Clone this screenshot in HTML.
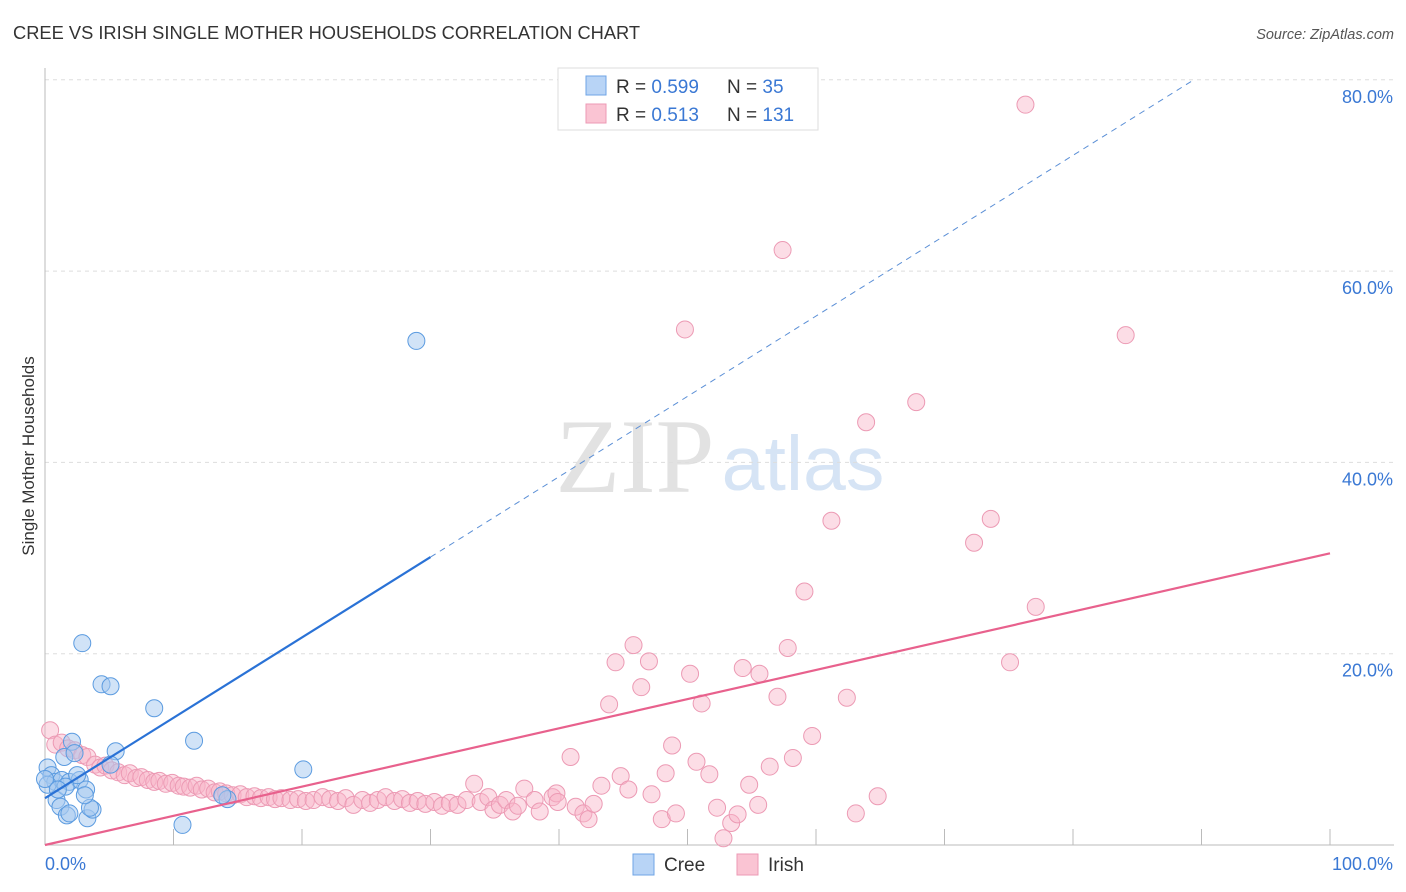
<!DOCTYPE html>
<html><head><meta charset="utf-8"><style>
body{margin:0;background:#fff;font-family:"Liberation Sans",sans-serif}
svg{display:block}
</style></head><body>
<svg id="c" width="1406" height="892">
<text x="13" y="39" font-size="18.3" fill="#333">CREE VS IRISH SINGLE MOTHER HOUSEHOLDS CORRELATION CHART</text>
<text x="1394" y="39" font-size="14.5" fill="#555" font-style="italic" text-anchor="end">Source: ZipAtlas.com</text>
<text transform="translate(34,456) rotate(-90)" font-size="17" fill="#333" text-anchor="middle">Single Mother Households</text>
<g><text x="635" y="492" font-family="Liberation Serif,serif" font-size="106" fill="#e2e2e2" text-anchor="middle">ZIP</text><text x="803" y="490" font-size="77" fill="#d6e4f5" text-anchor="middle">atlas</text></g>
<g id="grid"></g><g id="axes"></g><g id="pts"></g><g id="lines"></g>
<g>
<rect x="558" y="68" width="260" height="62" fill="#fff" stroke="#ddd"/>
<rect x="586" y="76" width="20" height="19" fill="#b8d4f6" stroke="#6fa4e6"/>
<rect x="586" y="104" width="20" height="19" fill="#fac4d3" stroke="#ec9ab4"/>
<text x="616" y="93" font-size="19" fill="#333">R = <tspan fill="#3a78d4">0.599</tspan></text>
<text x="727" y="93" font-size="19" fill="#333">N = <tspan fill="#3a78d4"> 35</tspan></text>
<text x="616" y="121" font-size="19" fill="#333">R = <tspan fill="#3a78d4"> 0.513</tspan></text>
<text x="727" y="121" font-size="19" fill="#333">N = <tspan fill="#3a78d4">131</tspan></text>
</g>
<g>
<rect x="633" y="854" width="21" height="21" fill="#b8d4f6" stroke="#6fa4e6"/>
<text x="664" y="871" font-size="19" fill="#333">Cree</text>
<rect x="737" y="854" width="21" height="21" fill="#fac4d3" stroke="#ec9ab4"/>
<text x="768" y="871" font-size="19" fill="#333">Irish</text>
</g>
</svg>
<script>
const yTicks=[20,40,60,80];
const yTickLabels=["20.0%","40.0%","60.0%","80.0%"];
const xTicks=[10,20,30,40,50,60,70,80,90,100];
const creeX=[2.9,4.4,5.1,8.5,11.6,5.5,2.1,1.5,2.3,28.9,20.1,10.7,14.2,13.8,0.2,0.5,0.8,1.3,1.9,2.7,0.2,0.9,1.2,1.7,1.9,3.3,3.7,3.5,3.2,2.5,5.1,3.1,0,1.6,1.0];
const creeY=[21.1,16.8,16.6,14.3,10.9,9.8,10.8,9.2,9.6,52.7,7.9,2.1,4.8,5.2,8.1,7.3,6.6,6.8,6.6,6.8,6.3,4.7,4.0,3.1,3.3,2.8,3.7,3.9,5.8,7.3,8.4,5.2,6.9,6.1,5.8];
const irishX=[0.4,0.8,1.3,1.8,2.3,2.9,3.3,3.9,4.3,4.7,5.2,5.7,6.2,6.6,7.1,7.5,8.0,8.5,8.9,9.4,9.9,10.4,10.8,11.3,11.8,12.2,12.7,13.2,13.6,14.1,14.6,15.2,15.7,16.3,16.8,17.4,17.9,18.4,19.1,19.7,20.3,20.9,21.6,22.2,22.8,23.4,24.0,24.7,25.3,25.9,26.5,27.2,27.8,28.4,29.0,29.6,30.3,30.9,31.5,32.1,32.8,33.4,33.9,34.5,34.9,35.4,35.9,36.4,36.8,37.3,38.1,38.5,39.5,39.8,39.9,40.9,41.3,41.9,42.3,42.7,43.3,43.9,44.4,44.8,45.4,45.8,46.4,47.0,47.2,48.0,48.3,48.8,49.1,49.8,50.2,50.7,51.1,51.7,52.3,52.8,53.4,53.9,54.3,54.8,55.5,55.6,56.4,57.0,57.4,57.8,58.2,59.1,59.7,61.2,62.4,63.1,63.9,64.8,67.8,72.3,73.6,75.1,76.3,77.1,84.1];
const irishY=[12.0,10.5,10.7,10.1,9.9,9.4,9.2,8.4,8.1,8.3,7.8,7.6,7.3,7.5,7.0,7.1,6.8,6.6,6.7,6.4,6.5,6.2,6.1,6.0,6.2,5.8,5.9,5.5,5.6,5.4,5.2,5.3,5.0,5.1,4.9,5.0,4.8,4.9,4.7,4.8,4.6,4.7,5.0,4.8,4.6,4.9,4.2,4.7,4.4,4.7,5.0,4.6,4.8,4.4,4.6,4.3,4.5,4.1,4.4,4.2,4.7,6.4,4.5,5.0,3.7,4.2,4.7,3.5,4.1,5.9,4.7,3.5,5.0,5.4,4.5,9.2,4.0,3.3,2.7,4.3,6.2,14.7,19.1,7.2,5.8,20.9,16.5,19.2,5.3,2.7,7.5,10.4,3.3,53.9,17.9,8.7,14.8,7.4,3.9,0.7,2.3,3.2,18.5,6.3,4.2,17.9,8.2,15.5,62.2,20.6,9.1,26.5,11.4,33.9,15.4,3.3,44.2,5.1,46.3,31.6,34.1,19.1,77.4,24.9,53.3];
const creeFit=[4.9,0.84], irishFit=[0.0,0.305];
const NS="http://www.w3.org/2000/svg";
const X=v=>45+v*12.85, Y=v=>845-v*9.565;
function mk(t,a,p){const e=document.createElementNS(NS,t);for(const k in a)e.setAttribute(k,a[k]);p.appendChild(e);return e;}
const grid=document.getElementById('grid'),axes=document.getElementById('axes'),pts=document.getElementById('pts'),lines=document.getElementById('lines');
yTicks.forEach((t,i)=>{
 const l=mk('line',{x1:45,x2:1394,y1:Y(t),y2:Y(t),stroke:'#ddd','stroke-dasharray':'4,4'},grid);
 
 
 const tx=mk('text',{x:1393,y:Y(t)+23,'font-size':18,fill:'#3a78d4','text-anchor':'end'},axes);
 tx.textContent=yTickLabels[i];
 
 
});
const ax=mk('line',{x1:45,x2:45,y1:68,y2:845,stroke:'#bbb'},axes);


const bx=mk('line',{x1:45,x2:1394,y1:845,y2:845,stroke:'#bbb'},axes);


xTicks.forEach(t=>{const l=mk('line',{x1:X(t),x2:X(t),y1:829,y2:845,stroke:'#bbb'},axes);
 
 });
const x0=mk('text',{x:45,y:870,'font-size':18,fill:'#3a78d4'},axes);x0.textContent='0.0%';


const x1=mk('text',{x:1393,y:870,'font-size':18,fill:'#3a78d4','text-anchor':'end'},axes);x1.textContent='100.0%';


irishX.forEach((v,i)=>{const c=mk('circle',{cx:X(v),cy:Y(irishY[i]),r:8.5,fill:'rgba(248,180,200,0.45)',stroke:'#ec9ab4','stroke-width':1},pts);
 
 });
creeX.forEach((v,i)=>{const c=mk('circle',{cx:X(v),cy:Y(creeY[i]),r:8.5,fill:'rgba(164,200,240,0.5)',stroke:'#5b9be0','stroke-width':1},pts);
 
 });
const xe=(80-creeFit[0])/creeFit[1];
const cs=mk('line',{x1:X(0),y1:Y(creeFit[0]),x2:X(30),y2:Y(creeFit[0]+30*creeFit[1]),stroke:'#2a72d6','stroke-width':2.2},lines);


const cd=mk('line',{x1:X(30),y1:Y(creeFit[0]+30*creeFit[1]),x2:X(xe),y2:Y(80),stroke:'#5b8fd6','stroke-width':1,'stroke-dasharray':'6,5'},lines);


const il=mk('line',{x1:X(0),y1:Y(irishFit[0]),x2:X(100),y2:Y(irishFit[0]+100*irishFit[1]),stroke:'#e8618d','stroke-width':2.2},lines);


</script>
</body></html>
